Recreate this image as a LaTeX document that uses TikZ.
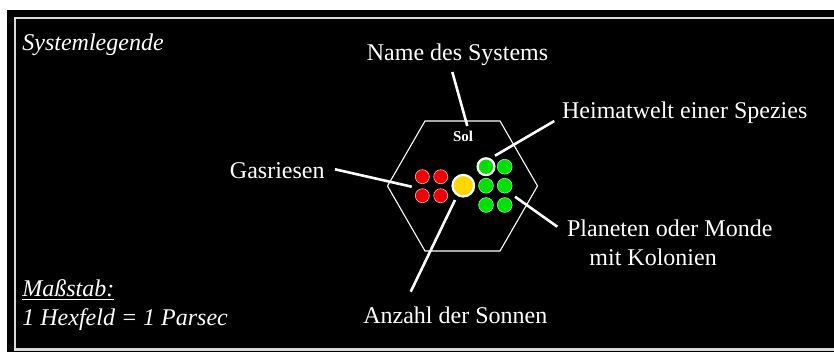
\documentclass[tikz,border=0pt]{standalone}
\usepackage{fontspec}
\setmainfont{Liberation Serif}
\definecolor{gasred}{RGB}{240,0,0}
\definecolor{colgreen}{RGB}{0,225,0}
\definecolor{sunyellow}{RGB}{255,215,0}
\begin{document}
\begin{tikzpicture}[x=0.5pt,y=-0.5pt,
  lbl/.style={text=white,font=\fontsize{12}{14}\selectfont,inner sep=0pt},
  ilbl/.style={lbl,font=\fontsize{12}{14}\selectfont\itshape,anchor=west},
  conn/.style={draw=white,line width=1.3pt},
  gas/.style={circle,fill=gasred,draw=white!70!gasred,line width=0.3pt,minimum size=7pt,inner sep=0pt},
  col/.style={circle,fill=colgreen,draw=white!60!colgreen,line width=0.3pt,minimum size=7.4pt,inner sep=0pt},
  home/.style={circle,fill=colgreen,draw=white,line width=1.1pt,minimum size=8.4pt,inner sep=0pt},
  sun/.style={circle,fill=sunyellow,draw=white,line width=1.1pt,minimum size=10.8pt,inner sep=0pt}]
\useasboundingbox (0,0) rectangle (834,352);
\clip (0,0) rectangle (834,352);
\fill[white] (0,0) rectangle (834,352);
\fill[black] (7,10) rectangle (860,370);
\draw[white!85!black,line width=1.1pt] (15,18) rectangle (860,349.5);
% hexagon
\draw[white,line width=0.55pt] (425,121) -- (500,121) -- (537.5,186) -- (500,251) -- (425,251) -- (387.5,186) -- cycle;
\node[text=white,font=\fontsize{7.5}{9}\selectfont\bfseries,inner sep=0pt] (sol) at (463,136) {Sol};
% planets
\node[gas] (g1) at (422.3,176.7) {};
\node[gas] (g2) at (440.7,176.7) {};
\node[gas] (g3) at (422.3,195.7) {};
\node[gas] (g4) at (440.7,195.7) {};
\node[sun] (sun) at (463.3,185.7) {};
\node[home] (hw) at (486,166.7) {};
\node[col] (c2) at (504.7,166.7) {};
\node[col] (c3) at (486,185.7) {};
\node[col] (c4) at (504.7,185.7) {};
\node[col] (c5) at (486,205) {};
\node[col] (c6) at (504.7,205) {};
% labels
\node[ilbl] (legend) at (22,45) {Systemlegende};
\node[ilbl] (scale) at (22,290) {\underline{Maßstab:}};
\node[ilbl] (hex) at (22,320) {1 Hexfeld = 1 Parsec};
\node[lbl] (name) at (457.5,55) {Name des Systems};
\node[lbl,anchor=west] (home) at (561.7,113) {Heimatwelt einer Spezies};
\node[lbl,anchor=east] (gas) at (325,171) {Gasriesen};
\node[lbl,anchor=west] (plan) at (566.7,228) {Planeten oder Monde};
\node[lbl,anchor=west] (kol) at (589,257) {mit Kolonien};
\node[lbl] (suns) at (455.3,315) {Anzahl der Sonnen};
% connector ends
\coordinate (nameA) at (452.3,72);
\coordinate (nameB) at (467.3,126);
\coordinate (homeA) at (554.3,121);
\coordinate (homeB) at (495,155.7);
\coordinate (gasA) at (335,169.3);
\coordinate (gasB) at (411.7,186.7);
\coordinate (planA) at (557.3,226.7);
\coordinate (planB) at (515,196.7);
\coordinate (sunsA) at (410.7,291.7);
\coordinate (sunsB) at (455,200);
\draw[conn] (nameA) -- (nameB);
\draw[conn] (homeA) -- (homeB);
\draw[conn] (gasA) -- (gasB);
\draw[conn] (planA) -- (planB);
\draw[conn] (sunsA) -- (sunsB);
\end{tikzpicture}
\end{document}
